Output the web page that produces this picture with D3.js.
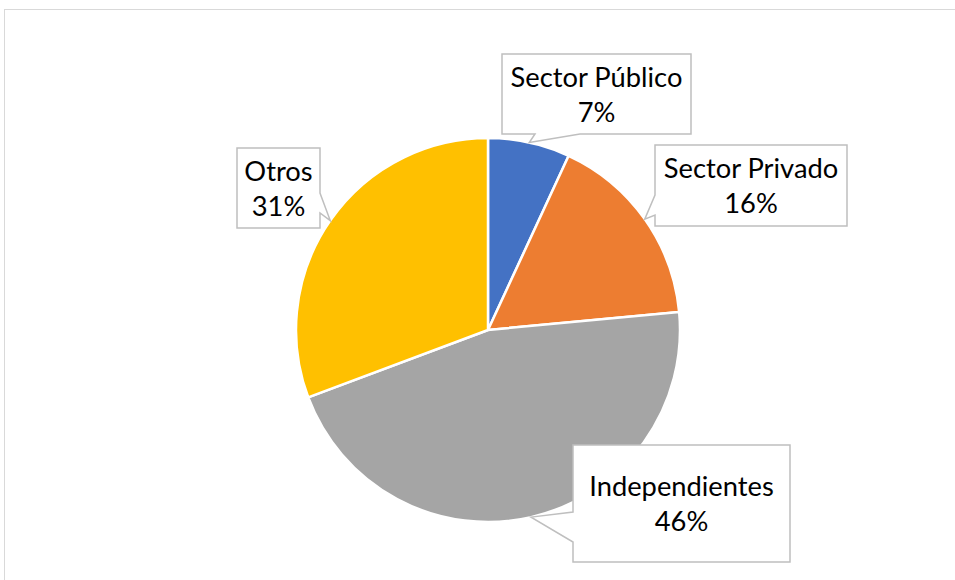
<!DOCTYPE html>
<html><head><meta charset="utf-8">
<script src="https://cdn.jsdelivr.net/npm/d3@7"></script>
<style>html,body{margin:0;padding:0;background:#fff;}</style>
</head><body>
<svg id="chart" width="955" height="580"></svg>
<script>
const categories = ["Sector Público", "Sector Privado", "Independientes", "Otros"];
const values = [6.9, 16.6, 45.8, 30.7];
const percentLabels = ["7%", "16%", "46%", "31%"];
const colors = ["#4472c4", "#ed7d31", "#a5a5a5", "#ffc000"];

const svg = d3.select("#chart");
svg.append("rect").attr("x", 4.5).attr("y", 9.5).attr("width", 1000).attr("height", 700)
  .attr("fill", "#fff").attr("stroke", "#d9d9d9").attr("stroke-width", 1);

const cx = 488, cy = 330, r = 192;
const g = svg.append("g").attr("transform", `translate(${cx},${cy})`);
const pie = d3.pie().sort(null).value(d => d)(values);
const arc = d3.arc().innerRadius(0).outerRadius(r);
g.selectAll("path.slice").data(pie).join("path").attr("class", "slice")
  .attr("d", arc).attr("fill", (d, i) => colors[i])
  .attr("stroke", "#fff").attr("stroke-width", 2.5).attr("stroke-linejoin", "round");

const boxes = [
  {x0: 502, y0: 54, x1: 691, y1: 134, side: "bottom", b0: 535, b1: 580},
  {x0: 655, y0: 145, x1: 847, y1: 226, side: "left", b0: 195, b1: 215},
  {x0: 573, y0: 445, x1: 790, y1: 562, side: "left", b0: 512, b1: 542},
  {x0: 237, y0: 148, x1: 320, y1: 228, side: "right", b0: 193, b1: 213}
];

const font = "Lato, 'Open Sans', sans-serif";
pie.forEach((d, i) => {
  const b = boxes[i];
  const mid = (d.startAngle + d.endAngle) / 2;
  const tx = cx + Math.sin(mid) * r, ty = cy - Math.cos(mid) * r;
  let pts;
  if (b.side === "bottom") {
    pts = [[b.x0, b.y0], [b.x1, b.y0], [b.x1, b.y1], [b.b1, b.y1], [tx, ty], [b.b0, b.y1], [b.x0, b.y1]];
  } else if (b.side === "left") {
    pts = [[b.x0, b.y0], [b.x1, b.y0], [b.x1, b.y1], [b.x0, b.y1], [b.x0, b.b1], [tx, ty], [b.x0, b.b0]];
  } else {
    pts = [[b.x0, b.y0], [b.x1, b.y0], [b.x1, b.b0], [tx, ty], [b.x1, b.b1], [b.x1, b.y1], [b.x0, b.y1]];
  }
  svg.append("path").attr("d", d3.line()(pts) + "Z")
    .attr("fill", "#fff").attr("stroke", "#bfbfbf").attr("stroke-width", 1.5);
  const mx = (b.x0 + b.x1) / 2, my = (b.y0 + b.y1) / 2;
  const t = svg.append("text").attr("text-anchor", "middle")
    .attr("font-family", font).attr("font-size", 27.3).attr("fill", "#000");
  t.append("tspan").attr("x", mx).attr("y", my - 7.5).text(categories[i]);
  t.append("tspan").attr("x", mx).attr("y", my + 27.5).text(percentLabels[i]);
});
</script>
</body></html>
